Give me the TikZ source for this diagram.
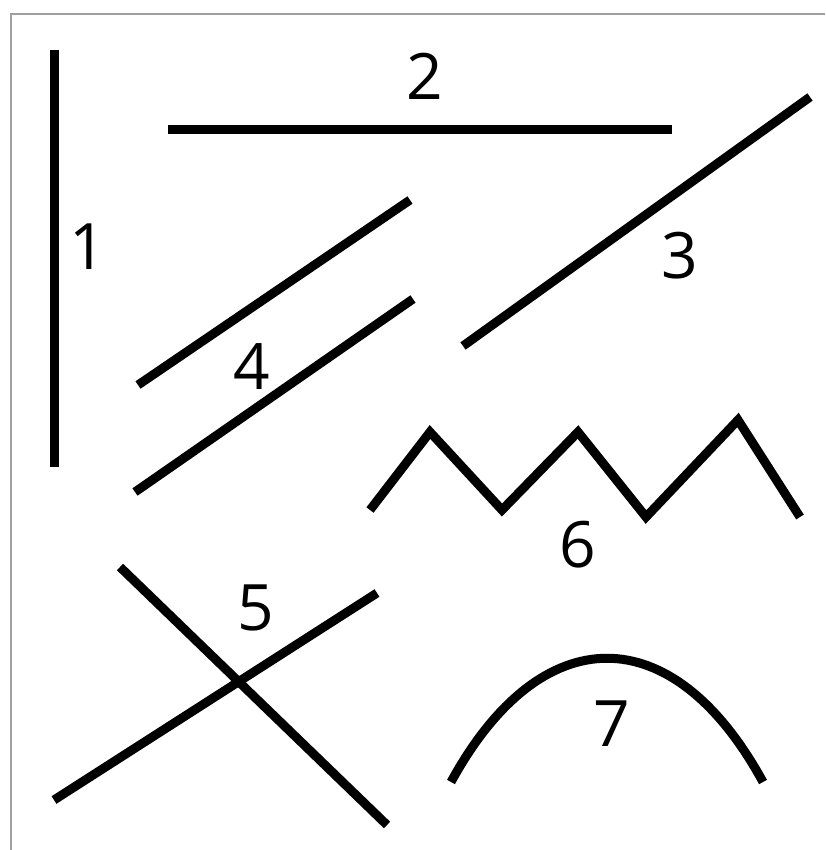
\documentclass[tikz,border=0pt]{standalone}
\usepackage{fontspec}
\setsansfont{Open Sans}
\usetikzlibrary{calc}
\definecolor{framegray}{HTML}{A0A0A0}

\begin{document}
\begin{tikzpicture}[
    x=1pt, y=-1pt,
    stroke/.style={line width=9pt, black, line cap=butt, line join=miter},
    frame/.style={line width=1.5pt, framegray},
    num/.style={font=\sffamily\fontsize{64}{64}\selectfont, inner sep=0pt}
]
\useasboundingbox (0,0) rectangle (825,850);

% frame (top and left only)
\draw[frame] (11,850) -- (11,14) -- (825,14);

% 1: vertical
\coordinate (v1) at (54,50);
\coordinate (v2) at (54,467);
\draw[stroke] (v1) -- (v2);
\node[num] (n1) at (88,247) {1};

% 2: horizontal
\coordinate (h1) at (168,130);
\coordinate (h2) at (672,130);
\draw[stroke] (h1) -- (h2);
\node[num] (n2) at (425,76) {2};

% 3: oblique
\coordinate (o1) at (463,346);
\coordinate (o2) at (810,97);
\draw[stroke] (o1) -- (o2);
\node[num] (n3) at (680,256) {3};

% 4: parallels
\coordinate (pa1) at (138,385);
\coordinate (pa2) at (410,200);
\coordinate (pb1) at (135,492);
\coordinate (pb2) at (413,299);
\draw[stroke] (pa1) -- (pa2);
\draw[stroke] (pb1) -- (pb2);
\node[num] (n4) at (252,367) {4};

% 5: crossing
\coordinate (ca1) at (120,567);
\coordinate (ca2) at (387,825);
\coordinate (cb1) at (54,800);
\coordinate (cb2) at (377,593);
\draw[stroke] (ca1) -- (ca2);
\draw[stroke] (cb1) -- (cb2);
\node[num] (n5) at (256,608) {5};

% 6: zigzag
\draw[stroke] (370,510) -- (430,432) -- (502,510) -- (578,432)
    -- (646,517) -- (738,420) -- (800,517);
\node[num] (n6) at (578,545) {6};

% 7: curve
\coordinate (k1) at (451,782);
\coordinate (k2) at (763,782);
\draw[stroke] (k1) .. controls (541,617) and (673,617) .. (k2);
\node[num] (n7) at (612,724) {7};

\end{tikzpicture}
\end{document}
